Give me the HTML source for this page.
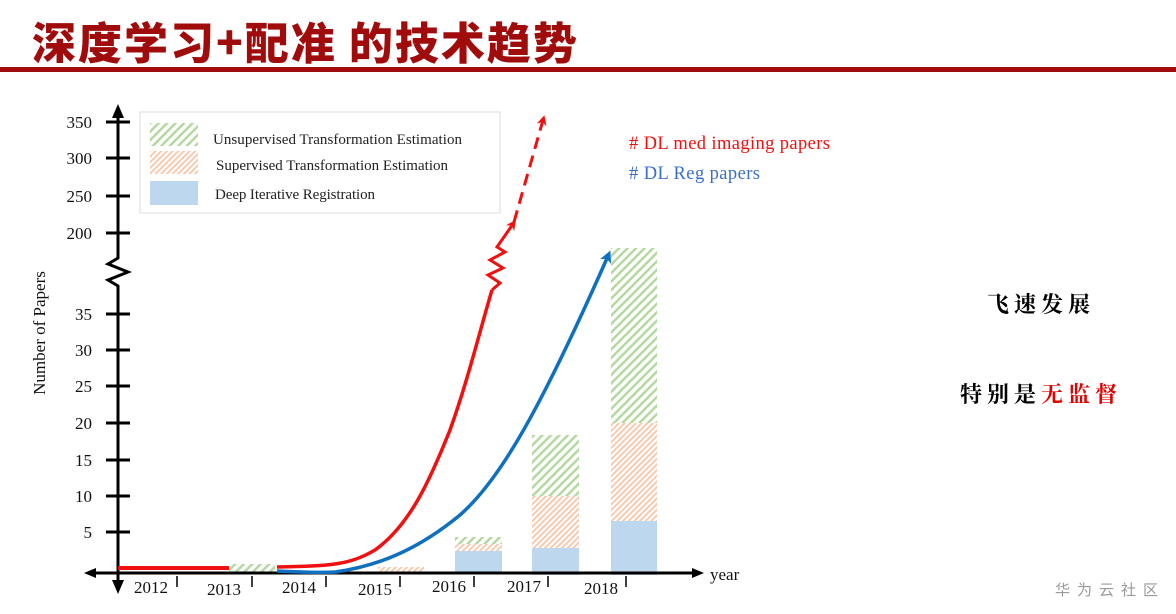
<!DOCTYPE html>
<html><head><meta charset="utf-8"><style>
body{margin:0;width:1176px;height:614px;background:#fff;overflow:hidden}
svg{display:block}
</style></head><body>
<svg width="1176" height="614" viewBox="0 0 1176 614" xmlns="http://www.w3.org/2000/svg">
<defs>
<pattern id="g" width="6" height="6" patternUnits="userSpaceOnUse" patternTransform="rotate(45)">
<rect width="6" height="6" fill="#fff"/><rect width="2.5" height="6" fill="#b5d8a0"/></pattern>
<pattern id="o" width="4" height="4" patternUnits="userSpaceOnUse" patternTransform="rotate(45)">
<rect width="4" height="4" fill="#fff"/><rect width="1.8" height="4" fill="#f7c6a8"/></pattern>
<marker id="ar" markerWidth="10" markerHeight="10" refX="5" refY="5" orient="auto" markerUnits="userSpaceOnUse"><path d="M0,0 L10,5 L0,10 L3,5z" fill="#f01010"/></marker>
<marker id="ab" markerWidth="12" markerHeight="12" refX="6" refY="6" orient="auto" markerUnits="userSpaceOnUse"><path d="M0,0 L12,6 L0,12 L3,6z" fill="#1070c0"/></marker>
</defs>
<text x="32" y="59" font-family="'Noto Sans CJK SC',sans-serif" font-weight="900" font-size="44" letter-spacing="2" fill="#a00c0c">深度学习+配准 的技术趋势</text>
<rect x="0" y="67" width="1176" height="5" fill="#a00c0c"/>

<!-- legend -->
<rect x="140" y="112" width="360" height="101" fill="#fff" stroke="#ddd"/>
<rect x="150" y="123" width="48" height="23" fill="url(#g)"/>
<rect x="150" y="151" width="48" height="23" fill="url(#o)"/>
<rect x="150" y="181" width="48" height="24" fill="#bdd7ee"/>
<g font-family="'Liberation Serif',serif" font-size="15" fill="#222">
<text x="213" y="144" textLength="249">Unsupervised Transformation Estimation</text>
<text x="216" y="170" textLength="232">Supervised Transformation Estimation</text>
<text x="215" y="199" textLength="160">Deep Iterative Registration</text>
</g>

<!-- bars -->
<rect x="229" y="564" width="46" height="9" fill="url(#g)"/>
<rect x="378" y="567" width="46" height="6" fill="url(#o)"/>
<rect x="455" y="551" width="47" height="22" fill="#bdd7ee"/>
<rect x="455" y="544" width="47" height="7" fill="url(#o)"/>
<rect x="455" y="537" width="47" height="7" fill="url(#g)"/>
<rect x="532" y="548" width="47" height="27" fill="#bdd7ee"/>
<rect x="532" y="496" width="47" height="52" fill="url(#o)"/>
<rect x="532" y="435" width="47" height="61" fill="url(#g)"/>
<rect x="611" y="521" width="46" height="54" fill="#bdd7ee"/>
<rect x="611" y="423" width="46" height="98" fill="url(#o)"/>
<rect x="611" y="248" width="46" height="175" fill="url(#g)"/>

<!-- axes -->
<g stroke="#000" stroke-width="3" fill="none">
<path d="M118,110 V258 L108,264 L128,272 L108,280 L118,286 V584"/>
<path d="M88,573 H695"/>
<path d="M106,122 H130 M106,158 H130 M106,196 H130 M106,233 H130 M106,314 H130 M106,350 H130 M106,386 H130 M106,423 H130 M106,460 H130 M106,496 H130 M106,532 H130"/>
</g>
<path d="M118,104 L112,118 L124,118z" fill="#000"/>
<path d="M118,594 L112,580 L124,580z" fill="#000"/>
<path d="M84,573 L96,568 L96,578z" fill="#000"/>
<path d="M704,573 L692,568 L692,578z" fill="#000"/>
<g stroke="#000" stroke-width="1.5"><path d="M177,576V587 M252,576V587 M326,576V587 M400,576V587 M474,576V587 M548,576V587 M626,576V587"/></g>
<g font-family="'Liberation Serif',serif" font-size="17" fill="#111" text-anchor="end">
<text x="92" y="128">350</text><text x="92" y="164">300</text><text x="92" y="202">250</text><text x="92" y="239">200</text>
<text x="92" y="320">35</text><text x="92" y="356">30</text><text x="92" y="392">25</text><text x="92" y="429">20</text>
<text x="92" y="466">15</text><text x="92" y="502">10</text><text x="92" y="538">5</text>
</g>
<g font-family="'Liberation Serif',serif" font-size="17" fill="#111">
<text x="134" y="593">2012</text><text x="207" y="595">2013</text><text x="282" y="593">2014</text><text x="358" y="595">2015</text>
<text x="432" y="592">2016</text><text x="507" y="592">2017</text><text x="584" y="594">2018</text>
<text x="710" y="580">year</text>
<text transform="translate(45,333) rotate(-90)" text-anchor="middle">Number of Papers</text>
</g>

<!-- curves -->
<path d="M118,568 H229" stroke="#f01010" stroke-width="4"/>
<path d="M277,571 C300,572 320,573 335,572 C380,566 420,548 460,515 C500,480 540,410 608,256" stroke="#1070c0" stroke-width="3.5" fill="none" marker-end="url(#ab)"/>
<path d="M277,567 C330,566 350,565 375,550 C410,525 430,480 450,430 C468,380 480,330 492,290" stroke="#f01010" stroke-width="3.5" fill="none"/>
<path d="M492,290 L500,283 L488,275 L503,268 L490,260 L505,252 L497,247 L513,224" stroke="#f01010" stroke-width="3" fill="none" marker-end="url(#ar)"/>
<path d="M514,222 L543,120" stroke="#f01010" stroke-width="3" stroke-dasharray="12,7" fill="none" marker-end="url(#ar)"/>

<g font-family="'Liberation Serif',serif" font-size="18.5">
<text x="629" y="149" fill="#f01010" textLength="201"># DL med imaging papers</text>
<text x="629" y="179" fill="#3a6fc4" textLength="131"># DL Reg papers</text>
</g>
<g font-family="'Noto Serif CJK SC','Noto Sans CJK SC',serif" font-size="22" font-weight="bold" fill="#000" letter-spacing="5">
<text x="987" y="312">飞速发展</text>
<text x="960" y="402">特别是<tspan fill="#e00000">无监督</tspan></text>
</g>
<text x="1055" y="595" font-family="'Noto Sans CJK SC',sans-serif" font-size="15" letter-spacing="7" fill="#999">华为云社区</text>
</svg>
</body></html>
